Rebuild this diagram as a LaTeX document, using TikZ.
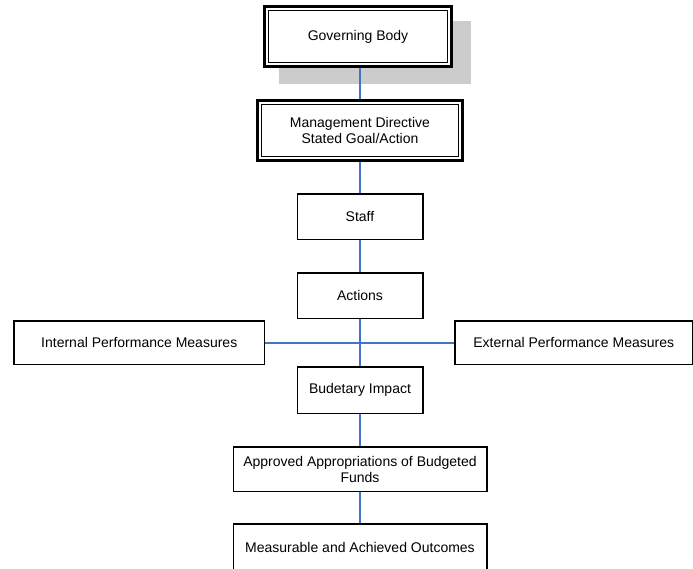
\documentclass[tikz,border=0pt]{standalone}
\usepackage{fontspec}
\setmainfont{Liberation Sans}
\usetikzlibrary{calc,positioning,backgrounds}
\definecolor{linkblue}{RGB}{68,114,196}
\definecolor{shadowgray}{RGB}{204,204,204}

\begin{document}
\begin{tikzpicture}[
  x=1pt, y=1pt,
  node distance=33.5pt,
  every node/.style={font=\fontsize{14}{16.5}\selectfont},
  box/.style={draw=black, line width=1.5pt, fill=white, outer sep=0pt,
    minimum width=125.5pt, minimum height=45.5pt, align=center, inner sep=2pt},
  framed/.style={box, line width=3pt, minimum width=187pt, minimum height=60pt},
  wide/.style={box, minimum width=253.5pt, minimum height=44.5pt},
  side/.style={box, minimum height=43.5pt},
  inframe/.style={draw=black, line width=1pt},
  link/.style={draw=linkblue, line width=2pt}
]
  \useasboundingbox (0,0) rectangle (693,-568);

  \node[framed] (gov) at (358,-36.5) {Governing Body};
  \node[framed, minimum width=205pt, below=34pt of gov, xshift=2pt] (mgmt)
    {Management Directive\\Stated Goal/Action};
  \node[box, below=of mgmt] (staff) {Staff};
  \node[box, below=of staff] (acts) {Actions};
  \node[box, minimum height=46.5pt, below=48.5pt of acts] (budget) {Budetary Impact};
  \node[wide, below=of budget] (approp)
    {Approved Appropriations of Budgeted\\Funds};
  \node[wide, minimum height=46pt, below=32.5pt of approp] (outcome)
    {Measurable and Achieved Outcomes};

  \coordinate (hub) at ($(acts.south)!0.5!(budget.north)$);
  \node[side, minimum width=250.5pt, left=95.5pt of hub] (internal)
    {Internal Performance Measures};
  \node[side, minimum width=237.5pt, right=95pt of hub] (external)
    {External Performance Measures};

  % inner rules of the double frames
  \foreach \n in {gov,mgmt}
    \draw[inframe] ([shift={(3.8,-3.8)}]\n.north west) rectangle ([shift={(-3.8,3.8)}]\n.south east);

  \begin{scope}[on background layer]
    \fill[shadowgray] ([shift={(14.8,-14.5)}]gov.north west) rectangle ([shift={(19.5,-17.8)}]gov.south east);
    \draw[link] (mgmt.north |- gov.south) -- (mgmt.north);
    \draw[link] (mgmt.south) -- (staff.north);
    \draw[link] (staff.south) -- (acts.north);
    \draw[link] (acts.south) -- (budget.north);
    \draw[link] (internal.east) -- (external.west);
    \draw[link] (budget.south) -- (approp.north);
    \draw[link] (approp.south) -- (outcome.north);
  \end{scope}
\end{tikzpicture}
\end{document}
